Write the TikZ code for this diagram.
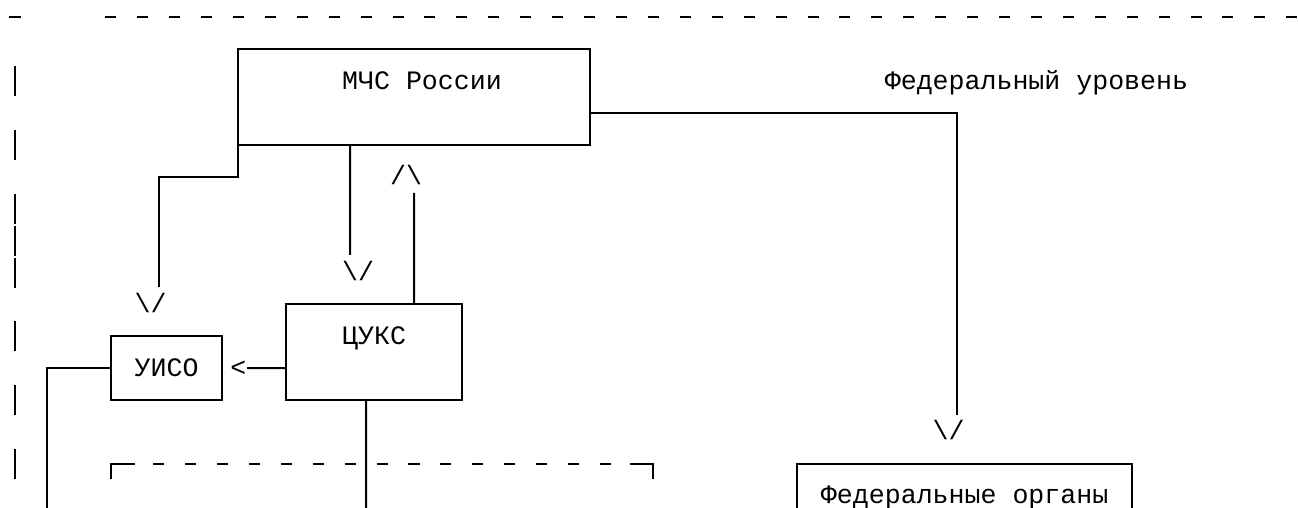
\documentclass[tikz,border=0pt]{standalone}
\usepackage{fontspec}
\newfontfamily\monof{Liberation Mono}
\begin{document}
\begin{tikzpicture}[x=11.97pt,y=-23.925pt,
  boxst/.style={draw, line width=1.5pt, inner sep=0pt, outer sep=0pt},
  conn/.style={line width=1.5pt},
  dsh/.style={line width=1.5pt},
  txt/.style={font={\monof\fontsize{19.95}{24}\selectfont}, inner sep=0pt, outer sep=0pt, anchor=base west},
]
\useasboundingbox (-0.9398,-0.5423) rectangle (80.388,15.351);

% boxes
\node[boxst, minimum width=263.34pt, minimum height=71.775pt] (mchs) at (25,2.5) {};
\node[boxst, minimum width=83.79pt, minimum height=47.85pt] (uiso) at (9.5,11) {};
\node[boxst, minimum width=131.67pt, minimum height=71.775pt] (cuks) at (22.5,10.5) {};
\node[boxst, minimum width=251.37pt, minimum height=71.775pt] (fed) at (59.5,15.5) {};

% texts
\node[txt] (tmchs) at (20.5,2.248) {МЧС России};
\node[txt] (tlevel) at (54.5,2.248) {Федеральный уровень};
\node[txt] (tuiso) at (7.5,11.248) {УИСО};
\node[txt] (tcuks) at (20.5,10.248) {ЦУКС};
\node[txt] (tfed) at (50.5,15.248) {Федеральные органы};

% ascii arrowheads
\node[txt] (h1) at (7.5,9.248) {\textbackslash/};
\node[txt] (h2) at (20.5,8.248) {\textbackslash/};
\node[txt] (h3) at (23.5,5.248) {/\textbackslash};
\node[txt] (h4) at (57.5,13.248) {\textbackslash/};
\node[txt] (h5) at (13.5,11.248) {<};

% free ends of connectors
\coordinate (e1) at (9,8.45);
\coordinate (e2) at (21,7.45);
\coordinate (e3) at (25,5.5);
\coordinate (e4) at (59,12.47);
\coordinate (e5) at (14.54,11);
\coordinate (e6) at (2,16);
\coordinate (e7) at (22,16);

% connectors
\draw[conn] (mchs.south west) -- ++(0,1) -| (e1);
\draw[conn] (mchs.south west) ++(7,0) -- (e2);
\draw[conn] (cuks.north west) ++(8,0) -- (e3);
\draw[conn] (mchs.north east) ++(0,2) -| (e4);
\draw[conn] (cuks.south west) ++(0,-1) -- (e5);
\draw[conn] (uiso.west) -| (e6);
\draw[conn] (cuks.south west) ++(5,0) -- (e7);

% dashed frame (top of a group)
\draw[conn] (7.52,14) -- (6,14) -- (6,14.47);
\draw[conn] (38.53,14) -- (40,14) -- (40,14.47);
\foreach \c in {9,11,...,37} \draw[dsh] (\c-0.345,14) -- (\c+0.345,14);

% top dashed rule
\draw[dsh] (-0.35,0) -- (0.35,0);
\foreach \c in {6,8,...,80} \draw[dsh] (\c-0.345,0) -- (\c+0.345,0);

% left dashed rule
\foreach \r in {2,4,6,7,8,10,12,14} \draw[dsh] (0,\r-0.47) -- (0,\r+0.47);
\end{tikzpicture}
\end{document}
